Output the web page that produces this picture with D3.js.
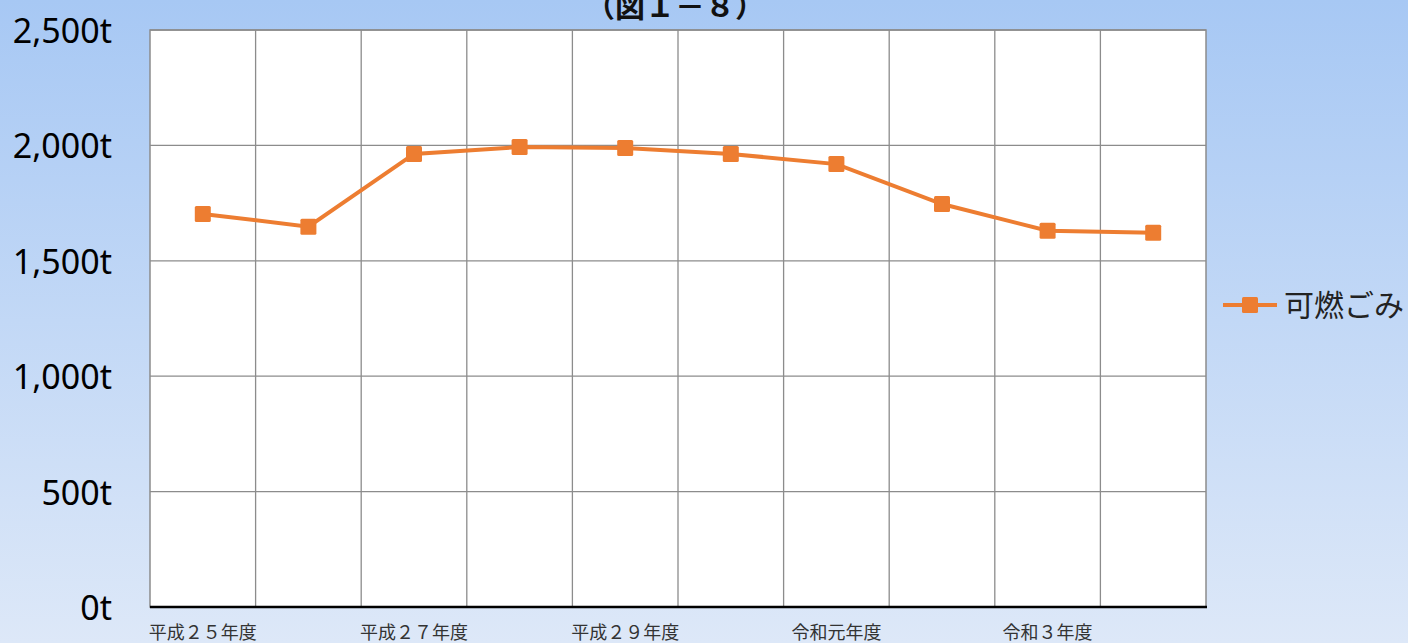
<!DOCTYPE html>
<html>
<head>
<meta charset="utf-8">
<script src="https://cdn.jsdelivr.net/npm/d3@7"></script>
<style>
  html, body { margin: 0; padding: 0; }
  body { width: 1408px; height: 643px; overflow: hidden; }
</style>
</head>
<body>
<div id="chart"></div>
<script>
const categories = ["平成２５年度", "平成２６年度", "平成２７年度", "平成２８年度", "平成２９年度",
    "平成３０年度", "令和元年度", "令和２年度", "令和３年度", "令和４年度"];
const shownLabels = ["平成２５年度", "", "平成２７年度", "", "平成２９年度", "", "令和元年度", "", "令和３年度", ""];
const values = [1703, 1648, 1963, 1993, 1989, 1963, 1919, 1746, 1630, 1622];
const yTicks = [0, 500, 1000, 1500, 2000, 2500];
const seriesName = "可燃ごみ";
const title = "（図１－８）";

const W = 1408, H = 643;
const plot = {left: 150, right: 1206, top: 30, bottom: 607};
const orange = "#ed7d31";
const font = "'Noto Sans CJK JP', 'Noto Sans', sans-serif";

const svg = d3.select("#chart").append("svg")
    .attr("width", W)
    .attr("height", H);

const grad = svg.append("defs").append("linearGradient")
    .attr("id", "bg")
    .attr("x1", 0).attr("y1", 0).attr("x2", 0).attr("y2", 1);
grad.append("stop").attr("offset", "0%").attr("stop-color", "#a7c8f4");
grad.append("stop").attr("offset", "100%").attr("stop-color", "#dde8f8");

svg.append("rect")
    .attr("width", W)
    .attr("height", H)
    .attr("fill", "url(#bg)");

const x = d3.scaleBand().domain(categories).range([plot.left, plot.right]);
const y = d3.scaleLinear().domain([0, 2500]).range([plot.bottom, plot.top]);

svg.append("rect")
    .attr("x", plot.left)
    .attr("y", plot.top)
    .attr("width", plot.right - plot.left)
    .attr("height", plot.bottom - plot.top)
    .attr("fill", "#fff")
    .attr("stroke", "#8c8c8c")
    .attr("stroke-width", 1.5);

// grid
svg.append("g").selectAll("line")
    .data(yTicks.slice(1))
    .enter().append("line")
    .attr("x1", plot.left).attr("x2", plot.right)
    .attr("y1", d => y(d)).attr("y2", d => y(d))
    .attr("stroke", "#8c8c8c")
    .attr("stroke-width", 1.3);

svg.append("g").selectAll("line")
    .data(categories.slice(1))
    .enter().append("line")
    .attr("x1", d => x(d)).attr("x2", d => x(d))
    .attr("y1", plot.top).attr("y2", plot.bottom)
    .attr("stroke", "#8c8c8c")
    .attr("stroke-width", 1.3);

// y labels
svg.append("g").selectAll("text")
    .data(yTicks)
    .enter().append("text")
    .attr("x", 112)
    .attr("y", d => y(d) + 13)
    .attr("text-anchor", "end")
    .attr("font-family", "'Noto Sans', 'Open Sans', sans-serif")
    .attr("font-size", 34)
    .attr("fill", "#000")
    .text(d => d3.format(",")(d) + "t");

// x axis line
svg.append("line")
    .attr("x1", plot.left).attr("x2", plot.right + 1)
    .attr("y1", plot.bottom).attr("y2", plot.bottom)
    .attr("stroke", "#000")
    .attr("stroke-width", 2.5);

// x labels
svg.append("g").selectAll("text")
    .data(categories)
    .enter().append("text")
    .attr("x", d => x(d) + x.bandwidth() / 2)
    .attr("y", 639)
    .attr("text-anchor", "middle")
    .attr("font-family", font)
    .attr("font-size", 18)
    .attr("fill", "#333")
    .text((d, i) => shownLabels[i]);

// line
const line = d3.line()
    .x((d, i) => x(categories[i]) + x.bandwidth() / 2)
    .y(d => y(d));

svg.append("path")
    .datum(values)
    .attr("d", line)
    .attr("fill", "none")
    .attr("stroke", orange)
    .attr("stroke-width", 4);

svg.append("g").selectAll("rect")
    .data(values)
    .enter().append("rect")
    .attr("x", (d, i) => x(categories[i]) + x.bandwidth() / 2 - 8)
    .attr("y", d => y(d) - 8)
    .attr("width", 16)
    .attr("height", 16)
    .attr("rx", 1.5)
    .attr("fill", orange);

// title (partly above the top edge, as in the original)
svg.append("text")
    .attr("x", 675)
    .attr("y", 17)
    .attr("text-anchor", "middle")
    .attr("font-family", font)
    .attr("font-size", 30)
    .attr("font-weight", "bold")
    .attr("fill", "#111")
    .text(title);

// legend
const lg = svg.append("g").attr("transform", "translate(1223,305)");
lg.append("line")
    .attr("x1", 0).attr("x2", 54)
    .attr("y1", 0).attr("y2", 0)
    .attr("stroke", orange)
    .attr("stroke-width", 4);
lg.append("rect")
    .attr("x", 19).attr("y", -8)
    .attr("width", 16).attr("height", 16)
    .attr("rx", 1.5)
    .attr("fill", orange);
lg.append("text")
    .attr("x", 61)
    .attr("y", 11)
    .attr("font-family", font)
    .attr("font-size", 30)
    .attr("fill", "#222")
    .text(seriesName);
</script>
</body>
</html>
